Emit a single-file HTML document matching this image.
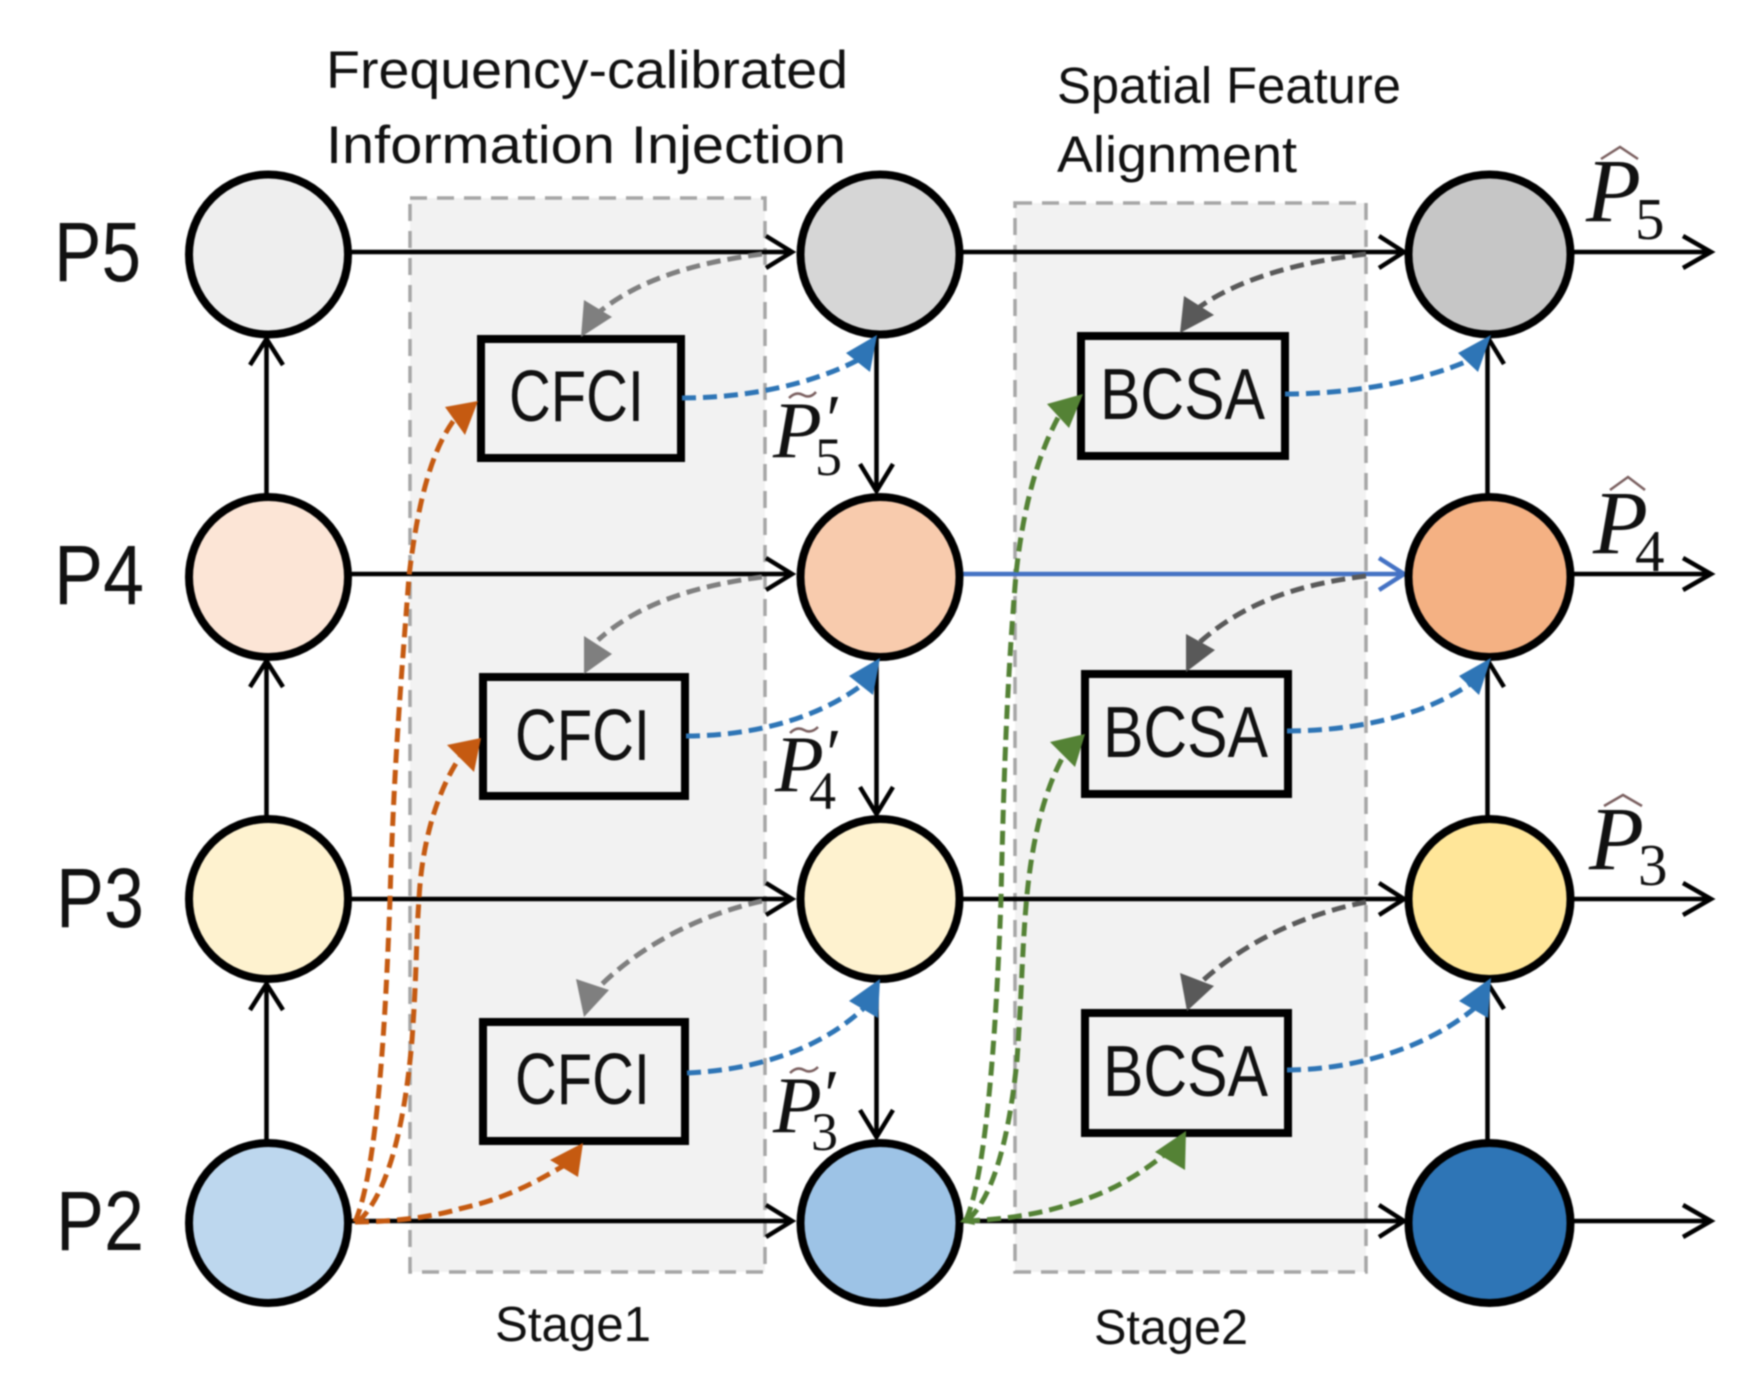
<!DOCTYPE html>
<html><head><meta charset="utf-8"><style>
html,body{margin:0;padding:0;background:#fff}
svg{display:block;filter:blur(.8px)}
text{font-family:"Liberation Sans",sans-serif;fill:#111}
.m{font-family:"Liberation Serif",serif;font-style:italic}
.n{font-family:"Liberation Serif",serif}
.k{stroke:#000;stroke-width:4.500;fill:none}
.d{fill:none;stroke-width:5;stroke-dasharray:14 7}
.b{fill:#f2f2f2;stroke:#000;stroke-width:8}
.c{stroke:#000;stroke-width:8}
.acc{fill:none;stroke:#7a5f5f;stroke-width:2.500}
</style></head><body>
<svg width="1764" height="1400" viewBox="0 0 1764 1400" xmlns="http://www.w3.org/2000/svg">
<rect width="1764" height="1400" fill="#fff"/>
<!-- stage boxes -->
<rect x="410" y="198" width="355" height="1074" fill="#f2f2f2" stroke="#a6a6a6" stroke-width="3.500" stroke-dasharray="17 10"/>
<rect x="1015" y="203" width="351" height="1069" fill="#f2f2f2" stroke="#a6a6a6" stroke-width="3.500" stroke-dasharray="17 10"/>

<!-- horizontal lines -->
<g class="k">
<path d="M350 252H792M766 236L792 252L766 268"/>
<path d="M350 574H792M766 558L792 574L766 590"/>
<path d="M350 899H792M766 883L792 899L766 915"/>
<path d="M350 1221H792M766 1205L792 1221L766 1237"/>
<path d="M960 252H1404M1379 236L1404 252L1379 268"/>
<path d="M960 899H1404M1379 883L1404 899L1379 915"/>
<path d="M960 1221H1404M1379 1205L1404 1221L1379 1237"/>
<path d="M1570 252H1711M1683 236L1711 252L1683 268"/>
<path d="M1570 574H1711M1683 558L1711 574L1683 590"/>
<path d="M1570 899H1711M1683 883L1711 899L1683 915"/>
<path d="M1570 1221H1711M1683 1205L1711 1221L1683 1237"/>
<!-- vertical -->
<path d="M266.500 496V339M250 365L266.500 339L283 365"/>
<path d="M266.500 818V661M250 687L266.500 661L283 687"/>
<path d="M266.500 1142V984M250 1010L266.500 984L283 1010"/>
<path d="M876.500 335V491M860 464L876.500 491L893 464"/>
<path d="M876.500 658V814M860 787L876.500 814L893 787"/>
<path d="M876.500 980V1137M860 1110L876.500 1137L893 1110"/>
<path d="M1487.500 496V337M1504 364L1487.500 337"/>
<path d="M1487.500 818V660M1504 687L1487.500 660"/>
<path d="M1487.500 1142V983M1504 1009L1487.500 983"/>
</g>
<path d="M960 574H1404M1379 558L1404 574L1379 590" fill="none" stroke="#4472c4" stroke-width="4.500"/>

<!-- circles -->
<g class="c">
<ellipse cx="268.500" cy="254.500" rx="79.500" ry="80" fill="#eeeeee"/>
<ellipse cx="268.500" cy="577" rx="79.500" ry="80" fill="#fce5d6"/>
<ellipse cx="268.500" cy="899" rx="79.500" ry="80" fill="#fef2cf"/>
<ellipse cx="268.500" cy="1223" rx="79.500" ry="80" fill="#bdd7ee"/>
<ellipse cx="880" cy="254.500" rx="79.500" ry="80" fill="#d6d6d6"/>
<ellipse cx="880" cy="577" rx="79.500" ry="80" fill="#f8cbad"/>
<ellipse cx="880" cy="899" rx="79.500" ry="80" fill="#fef2cf"/>
<ellipse cx="880" cy="1223" rx="79.500" ry="80" fill="#9dc3e6"/>
<ellipse cx="1489.500" cy="254.500" rx="81" ry="80" fill="#c6c6c6"/>
<ellipse cx="1489.500" cy="577" rx="81" ry="80" fill="#f4b183"/>
<ellipse cx="1489.500" cy="899" rx="81" ry="80" fill="#ffe699"/>
<ellipse cx="1489.500" cy="1223" rx="81" ry="80" fill="#2e75b6"/>
</g>

<!-- boxes -->
<rect class="b" x="481" y="339" width="200" height="119"/>
<rect class="b" x="483" y="677" width="202" height="119"/>
<rect class="b" x="483" y="1022" width="202" height="119"/>
<rect class="b" x="1081" y="336" width="204" height="120"/>
<rect class="b" x="1085" y="674" width="203" height="120"/>
<rect class="b" x="1085" y="1013" width="203" height="120"/>

<!-- gray dashed -->
<g class="d" stroke="#7f7f7f">
<path d="M762 254C700 262 640 278 598 313"/>
<path d="M762 577C700 585 640 602 598 640"/>
<path d="M762 901C700 915 640 945 596 990"/>
</g>
<g fill="#7f7f7f">
<polygon points="581,337 584,300 612,317"/>
<polygon points="584,674 584,636 612,654"/>
<polygon points="584,1017 576,979 609,990"/>
</g>
<g class="d" stroke="#595959">
<path d="M1366 254C1300 262 1240 278 1198 308"/>
<path d="M1366 576C1300 584 1245 602 1200 642"/>
<path d="M1366 902C1300 915 1240 945 1198 985"/>
</g>
<g fill="#595959">
<polygon points="1180,333 1184,296 1214,315"/>
<polygon points="1186,672 1186,634 1215,650"/>
<polygon points="1187,1011 1180,973 1214,986"/>
</g>

<!-- blue dashed -->
<g class="d" stroke="#2e75b6">
<path d="M682 398C745 398 810 385 858 360"/>
<path d="M686 736C750 736 815 720 862 685"/>
<path d="M687 1073C755 1070 820 1050 865 1007"/>
<path d="M1285 394C1350 394 1420 382 1470 360"/>
<path d="M1287 731C1350 731 1420 718 1470 684"/>
<path d="M1287 1070C1350 1070 1425 1050 1476 1007"/>
</g>
<g fill="#2e75b6">
<polygon points="877,335 846,353 870,372"/>
<polygon points="880,658 849,676 873,695"/>
<polygon points="880,979 849,1001 878,1018"/>
<polygon points="1491,335 1458,353 1478,372"/>
<polygon points="1491,658 1459,676 1479,695"/>
<polygon points="1491,978 1459,1001 1488,1018"/>
</g>

<!-- orange -->
<g class="d" stroke="#c55a11">
<path d="M355 1222C378 1170 386 1010 390 899C394 760 402 670 409 576C418 500 432 450 454 420"/>
<path d="M358 1222C392 1190 406 1110 412 1040C417 970 416 940 419 899C422 840 438 790 460 757"/>
<path d="M355 1222C400 1222 440 1215 459 1209C490 1202 520 1192 563 1166"/>
</g>
<g fill="#c55a11">
<polygon points="478,401 445,407 465,435"/>
<polygon points="481,738 447,745 474,772"/>
<polygon points="583,1143 550,1160 578,1177"/>
</g>

<!-- green -->
<g class="d" stroke="#548235">
<path d="M966 1220C988 1170 997 1010 1001 899C1004 760 1008 670 1016 574C1024 500 1040 450 1060 414"/>
<path d="M968 1220C1000 1190 1012 1110 1017 1060C1022 990 1022 950 1026.600 899C1032 840 1044 790 1065 753"/>
<path d="M966 1221C1010 1219 1040 1214 1077 1202C1110 1192 1140 1175 1170 1150"/>
</g>
<g fill="#548235">
<polygon points="1083,394 1047,404 1069,428"/>
<polygon points="1085,734 1050,742 1075,767"/>
<polygon points="1186,1131 1155,1152 1185,1170"/>
<polygon points="960,1222 970,1211 975,1225"/>
</g>

<!-- titles -->
<text x="326" y="88" font-size="53" textLength="522" lengthAdjust="spacingAndGlyphs">Frequency-calibrated</text>
<text x="326" y="163" font-size="53" textLength="520" lengthAdjust="spacingAndGlyphs">Information Injection</text>
<text x="1057" y="103" font-size="51" textLength="344" lengthAdjust="spacingAndGlyphs">Spatial Feature</text>
<text x="1057" y="172" font-size="51" textLength="240" lengthAdjust="spacingAndGlyphs">Alignment</text>
<text x="495" y="1341" font-size="49" textLength="156" lengthAdjust="spacingAndGlyphs">Stage1</text>
<text x="1094" y="1344" font-size="49" textLength="154" lengthAdjust="spacingAndGlyphs">Stage2</text>

<text x="54" y="281" font-size="84" textLength="87" lengthAdjust="spacingAndGlyphs">P5</text>
<text x="54" y="604" font-size="84" textLength="90" lengthAdjust="spacingAndGlyphs">P4</text>
<text x="56" y="927" font-size="84" textLength="88" lengthAdjust="spacingAndGlyphs">P3</text>
<text x="56" y="1250" font-size="84" textLength="88" lengthAdjust="spacingAndGlyphs">P2</text>

<g font-size="72">
<text x="509" y="421" textLength="135" lengthAdjust="spacingAndGlyphs">CFCI</text>
<text x="515" y="760" textLength="135" lengthAdjust="spacingAndGlyphs">CFCI</text>
<text x="515" y="1104" textLength="135" lengthAdjust="spacingAndGlyphs">CFCI</text>
<text x="1100" y="419" textLength="165" lengthAdjust="spacingAndGlyphs">BCSA</text>
<text x="1103" y="757" textLength="165" lengthAdjust="spacingAndGlyphs">BCSA</text>
<text x="1103" y="1096" textLength="165" lengthAdjust="spacingAndGlyphs">BCSA</text>
</g>

<!-- P tilde prime -->
<g>
<text class="m" x="773" y="457" font-size="80">P</text><text class="m" x="822" y="443" font-size="70">′</text><text class="n" x="815" y="475" font-size="54">5</text>
<path class="acc" d="M789 398Q796 391 803 395T816 392"/>
<text class="m" x="775" y="791" font-size="80">P</text><text class="m" x="822" y="777" font-size="70">′</text><text class="n" x="809" y="809" font-size="54">4</text>
<path class="acc" d="M790 733Q797 726 804 730T818 727"/>
<text class="m" x="773" y="1132" font-size="80">P</text><text class="m" x="820" y="1118" font-size="70">′</text><text class="n" x="811" y="1150" font-size="54">3</text>
<path class="acc" d="M790 1073Q797 1066 804 1070T818 1067"/>
</g>
<!-- P hat -->
<g>
<text class="m" x="1586" y="221" font-size="90">P</text><text class="n" x="1635" y="239" font-size="59">5</text>
<path class="acc" d="M1601 159L1620 147L1638 159"/>
<text class="m" x="1593" y="553" font-size="90">P</text><text class="n" x="1635" y="571" font-size="59">4</text>
<path class="acc" d="M1610 490L1628 477L1645 490"/>
<text class="m" x="1589" y="869" font-size="90">P</text><text class="n" x="1638" y="885" font-size="59">3</text>
<path class="acc" d="M1604 806L1623 795L1642 806"/>
</g>
</svg>
</body></html>
